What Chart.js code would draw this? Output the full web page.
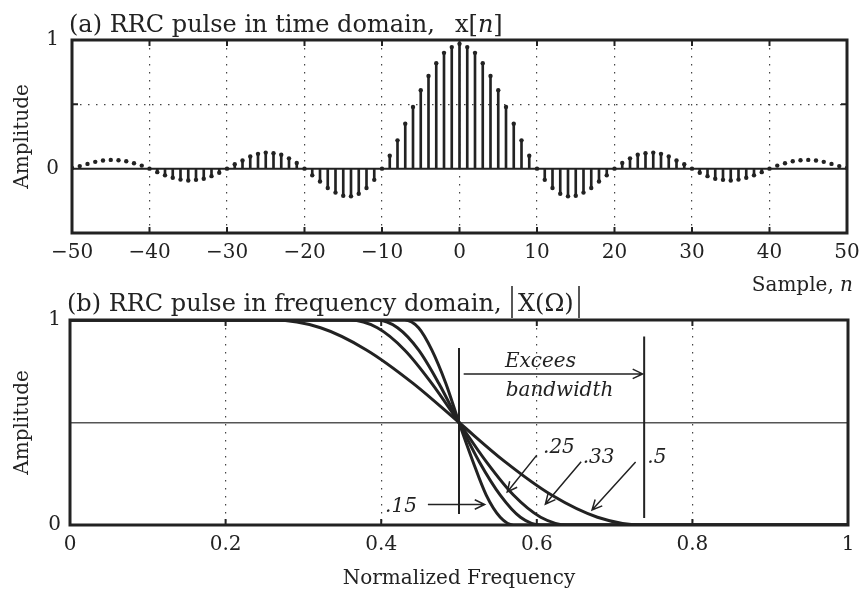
<!DOCTYPE html>
<html>
<head>
<meta charset="utf-8">
<script src="https://cdn.jsdelivr.net/npm/chart.js@4.4.1/dist/chart.umd.min.js"></script>
<style>
  body { margin: 0; background: #fff; }
  .box { position: absolute; left: 0; width: 861px; }
</style>
</head>
<body>
<div class="box" style="top:0;height:295px"><canvas id="timeChart"></canvas></div>
<div class="box" style="top:280px;height:313px"><canvas id="freqChart"></canvas></div>
<script>
// x[n] for n = -50 .. 50
const pulseValues = [
  0.005, 0.02, 0.037, 0.053, 0.064, 0.068, 0.065, 0.058, 0.042, 0.024,
  0, -0.027, -0.052, -0.071, -0.085, -0.092, -0.087, -0.078, -0.058, -0.032,
  0, 0.034, 0.064, 0.095, 0.115, 0.125, 0.12, 0.108, 0.08, 0.045,
  0, -0.052, -0.10, -0.15, -0.186, -0.21, -0.215, -0.195, -0.15, -0.087,
  0, 0.10, 0.22, 0.35, 0.48, 0.61, 0.72, 0.82, 0.90, 0.945,
  0.97,
  0.945, 0.90, 0.82, 0.72, 0.61, 0.48, 0.35, 0.22, 0.10, 0,
  -0.087, -0.15, -0.195, -0.215, -0.21, -0.186, -0.15, -0.10, -0.052, 0,
  0.045, 0.08, 0.108, 0.12, 0.125, 0.115, 0.095, 0.064, 0.034, 0,
  -0.032, -0.058, -0.078, -0.087, -0.092, -0.085, -0.071, -0.052, -0.027, 0,
  0.024, 0.042, 0.058, 0.065, 0.068, 0.064, 0.053, 0.037, 0.02, 0.005
];
const firstSample = -50;
const stemLimit = 40;          // beyond |n| = 40 only the dots are drawn

// |X(Omega)| for the four roll-off factors
const rolloffLabels = [".15", ".25", ".33", ".5"];
const freqR15 = [0, 0.430, 0.448, 0.465, 0.483, 0.500, 0.518, 0.535, 0.553, 0.570, 1];
const freqR25 = [0, 0.395, 0.421, 0.448, 0.474, 0.500, 0.526, 0.553, 0.579, 0.605, 1];
const freqR33 = [0, 0.360, 0.395, 0.430, 0.465, 0.500, 0.535, 0.570, 0.605, 0.640, 1];
const freqR50 = [0, 0.262, 0.322, 0.381, 0.441, 0.500, 0.559, 0.619, 0.678, 0.735, 1];
const rolloffAmp = [1, 1, 0.962, 0.854, 0.691, 0.5, 0.309, 0.146, 0.038, 0, 0];

const ink = "#222";
const gridInk = "#444";
const serif = "DejaVu Serif";

const samples = pulseValues.map((v, i) => ({ x: firstSample + i, y: v }));
const stems = samples.filter(p => Math.abs(p.x) <= stemLimit);
const toXY = (xs, ys) => xs.map((x, i) => ({ x: x, y: ys[i] }));

// box round the plot area plus short inward ticks
const framePlugin = {
  id: "frame",
  afterDatasetsDraw(chart, args, opts) {
    const { ctx, chartArea: a, scales } = chart;
    ctx.save();
    ctx.strokeStyle = ink;
    ctx.lineWidth = 2;
    ctx.beginPath();
    scales.x.ticks.forEach(t => {
      const px = scales.x.getPixelForValue(t.value);
      ctx.moveTo(px, a.bottom); ctx.lineTo(px, a.bottom - 6);
      ctx.moveTo(px, a.top); ctx.lineTo(px, a.top + 6);
    });
    (opts.yTicks || []).forEach(v => {
      const py = scales.y.getPixelForValue(v);
      ctx.moveTo(a.left, py); ctx.lineTo(a.left + 6, py);
      ctx.moveTo(a.right, py); ctx.lineTo(a.right - 6, py);
    });
    ctx.stroke();
    ctx.lineWidth = 3;
    ctx.strokeRect(a.left, a.top, a.right - a.left, a.bottom - a.top);
    ctx.restore();
  }
};

function drawRuns(ctx, runs, x, y) {
  runs.forEach(r => {
    ctx.font = r.font;
    ctx.fillText(r.text, x, y);
    x += ctx.measureText(r.text).width;
  });
  return x;
}

function arrow(ctx, x1, y1, x2, y2) {
  const ang = Math.atan2(y2 - y1, x2 - x1), len = 11, w = 0.45;
  ctx.beginPath();
  ctx.moveTo(x1, y1); ctx.lineTo(x2, y2);
  ctx.moveTo(x2 - len * Math.cos(ang - w), y2 - len * Math.sin(ang - w));
  ctx.lineTo(x2, y2);
  ctx.lineTo(x2 - len * Math.cos(ang + w), y2 - len * Math.sin(ang + w));
  ctx.stroke();
}

const timeText = {
  id: "timeText",
  afterDraw(chart) {
    const ctx = chart.ctx;
    ctx.save();
    ctx.fillStyle = ink;
    ctx.textBaseline = "alphabetic";
    drawRuns(ctx, [{ text: "(a) RRC pulse in time domain,", font: "24px " + serif }], 69, 32);
    drawRuns(ctx, [
      { text: "x[", font: "24px " + serif },
      { text: "n", font: "italic 24px " + serif },
      { text: "]", font: "24px " + serif }
    ], 455, 32);
    ctx.font = "italic 20px " + serif;
    const nw = ctx.measureText("n").width;
    ctx.font = "20px " + serif;
    const sw = ctx.measureText("Sample, ").width;
    drawRuns(ctx, [
      { text: "Sample, ", font: "20px " + serif },
      { text: "n", font: "italic 20px " + serif }
    ], 853 - nw - sw, 291);
    ctx.restore();
  }
};

const notes = {
  arrows: [
    { from: [0.460, 0.100], to: [0.533, 0.100] },
    { from: [0.600, 0.341], to: [0.562, 0.161] },
    { from: [0.657, 0.309], to: [0.611, 0.102] },
    { from: [0.727, 0.307], to: [0.671, 0.073] },
    { from: [0.506, 0.737], to: [0.736, 0.737] }
  ],
  rolloffAt: [[0.405, 0.063], [0.608, 0.351], [0.659, 0.302], [0.742, 0.302]],
  bandwidthAt: [[0.559, 0.771], [0.560, 0.629]]
};

const freqText = {
  id: "freqText",
  afterDraw(chart) {
    const { ctx, scales: { x, y } } = chart;
    ctx.save();
    ctx.fillStyle = ink;
    ctx.strokeStyle = ink;
    ctx.textBaseline = "alphabetic";
    drawRuns(ctx, [{ text: "(b) RRC pulse in frequency domain,", font: "24px " + serif }], 67, 31);
    drawRuns(ctx, [{ text: "X(\u03A9)", font: "24px " + serif }], 518, 31);
    ctx.lineWidth = 1.5;
    ctx.beginPath();
    ctx.moveTo(512, 6); ctx.lineTo(512, 38);
    ctx.moveTo(579, 6); ctx.lineTo(579, 38);
    ctx.stroke();

    ctx.font = "italic 20px " + serif;
    rolloffLabels.forEach((t, i) => {
      const p = notes.rolloffAt[i];
      ctx.fillText(t, x.getPixelForValue(p[0]), y.getPixelForValue(p[1]));
    });
    ["Excees", "bandwidth"].forEach((t, i) => {
      const p = notes.bandwidthAt[i];
      ctx.fillText(t, x.getPixelForValue(p[0]), y.getPixelForValue(p[1]));
    });
    ctx.lineWidth = 1.5;
    notes.arrows.forEach(a => {
      arrow(ctx, x.getPixelForValue(a.from[0]), y.getPixelForValue(a.from[1]),
        x.getPixelForValue(a.to[0]), y.getPixelForValue(a.to[1]));
    });
    ctx.restore();
  }
};

const tickFont = { family: serif, size: 20 };
const minus = v => (v < 0 ? "\u2212" + Math.abs(v) : String(v));

new Chart(document.getElementById("timeChart"), {
  type: "bar",
  data: {
    datasets: [
      { type: "line", data: samples, showLine: false, pointRadius: 2.2,
        pointBackgroundColor: ink, pointBorderWidth: 0, order: 0 },
      { type: "bar", data: stems, backgroundColor: ink, barThickness: 2, order: 1 },
      { type: "line", data: [{ x: -50, y: 0 }, { x: 50, y: 0 }], borderColor: ink,
        borderWidth: 2, pointRadius: 0, order: 2 }
    ]
  },
  options: {
    responsive: true,
    maintainAspectRatio: false,
    animation: false,
    layout: { padding: { top: 40, right: 14, left: 0, bottom: 0 } },
    plugins: { legend: { display: false }, tooltip: { enabled: false }, frame: { yTicks: [0.5] } },
    scales: {
      x: {
        type: "linear", min: -50, max: 50, offset: false,
        afterFit(s) { s.height = 62; s.paddingLeft = 0; s.paddingRight = 0; },
        ticks: { stepSize: 10, font: tickFont, color: ink, padding: 8, callback: minus, maxRotation: 0 },
        grid: { offset: false, color: gridInk, lineWidth: 1.2, drawTicks: false },
        border: { display: false, dash: [1.5, 6.5] }
      },
      y: {
        min: -0.5, max: 1,
        afterFit(s) { s.width = 72; },
        ticks: { stepSize: 0.5, font: tickFont, color: ink, padding: 13,
          callback: v => (v === 0 || v === 1 ? String(v) : "") },
        grid: { color: c => (c.tick.value === 0.5 ? gridInk : "transparent"), lineWidth: 1.2, drawTicks: false },
        border: { display: false, dash: [1.5, 6.5] },
        title: { display: true, text: "Amplitude", font: { family: serif, size: 20 }, color: ink,
          padding: { top: 11, bottom: 0 } }
      }
    }
  },
  plugins: [framePlugin, timeText]
});

const curveStyle = { borderColor: ink, borderWidth: 3, pointRadius: 0, cubicInterpolationMode: "monotone", order: 1 };
const markStyle = { borderColor: ink, borderWidth: 2, pointRadius: 0, order: 2 };

new Chart(document.getElementById("freqChart"), {
  type: "line",
  data: {
    datasets: [
      Object.assign({ label: rolloffLabels[0], data: toXY(freqR15, rolloffAmp) }, curveStyle),
      Object.assign({ label: rolloffLabels[1], data: toXY(freqR25, rolloffAmp) }, curveStyle),
      Object.assign({ label: rolloffLabels[2], data: toXY(freqR33, rolloffAmp) }, curveStyle),
      Object.assign({ label: rolloffLabels[3], data: toXY(freqR50, rolloffAmp) }, curveStyle),
      Object.assign({ data: [{ x: 0.5, y: 0.863 }, { x: 0.5, y: 0.054 }] }, markStyle),
      Object.assign({ data: [{ x: 0.738, y: 0.92 }, { x: 0.738, y: 0.034 }] }, markStyle)
    ]
  },
  options: {
    responsive: true,
    maintainAspectRatio: false,
    animation: false,
    layout: { padding: { top: 40, right: 13, left: 0, bottom: 0 } },
    plugins: { legend: { display: false }, tooltip: { enabled: false }, frame: { yTicks: [] } },
    scales: {
      x: {
        type: "linear", min: 0, max: 1,
        afterFit(s) { s.height = 68; s.paddingLeft = 0; s.paddingRight = 0; },
        ticks: { stepSize: 0.2, font: tickFont, color: ink, padding: 8, maxRotation: 0,
          callback: v => (v === 0 || v === 1 ? String(v) : v.toFixed(1)) },
        grid: { color: gridInk, lineWidth: 1.2, drawTicks: false },
        border: { display: false, dash: [1.5, 6.5] },
        title: { display: true, text: "Normalized Frequency", font: { family: serif, size: 20 }, color: ink,
          padding: { top: 0, bottom: 2 } }
      },
      y: {
        min: 0, max: 1,
        afterFit(s) { s.width = 70; },
        ticks: { stepSize: 0.5, font: tickFont, color: ink, padding: 9,
          callback: v => (v === 0 || v === 1 ? String(v) : "") },
        grid: { color: c => (c.tick.value === 0.5 ? "#555" : "transparent"), lineWidth: 1.5, drawTicks: false },
        border: { display: false },
        title: { display: true, text: "Amplitude", font: { family: serif, size: 20 }, color: ink,
          padding: { top: 11, bottom: 0 } }
      }
    }
  },
  plugins: [framePlugin, freqText]
});
</script>
</body>
</html>
